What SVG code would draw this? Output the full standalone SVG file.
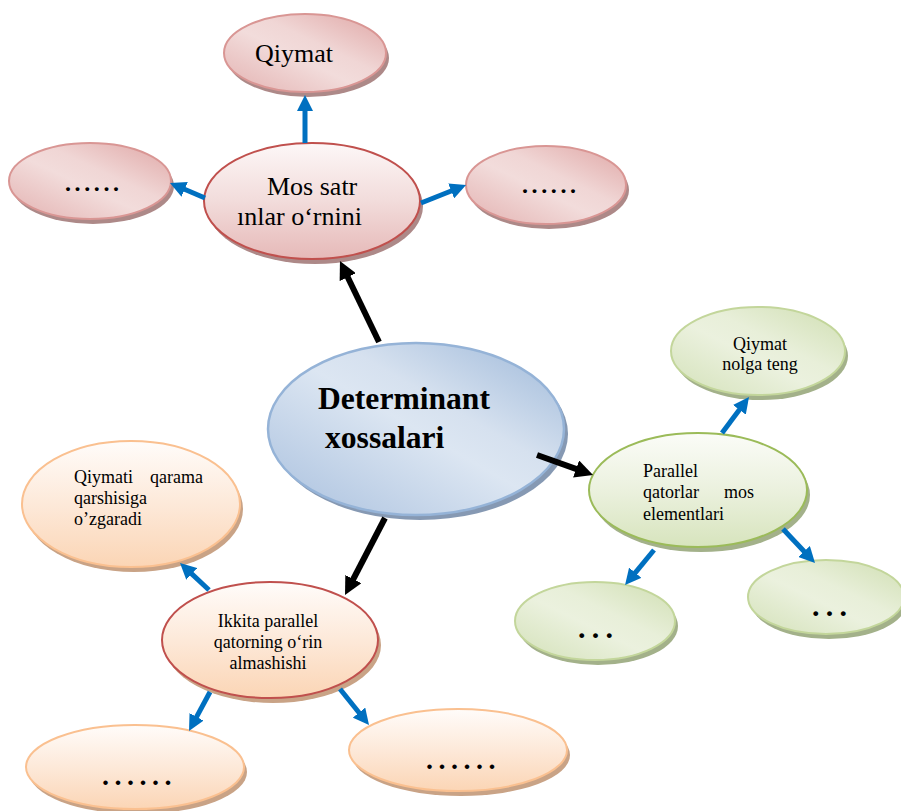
<svg xmlns="http://www.w3.org/2000/svg" width="901" height="811" viewBox="0 0 901 811">
<defs>
  <linearGradient id="gRed" x1="0" y1="1" x2="1" y2="0">
    <stop offset="0" stop-color="#e3b1b0"/>
    <stop offset="0.45" stop-color="#f2dcdb"/>
    <stop offset="0.6" stop-color="#f0d6d5"/>
    <stop offset="1" stop-color="#dfa5a4"/>
  </linearGradient>
  <linearGradient id="gRedV" x1="0" y1="0" x2="0" y2="1">
    <stop offset="0" stop-color="#fdf7f7"/>
    <stop offset="0.5" stop-color="#f2dcdb"/>
    <stop offset="1" stop-color="#e6b9b8"/>
  </linearGradient>
  <linearGradient id="gBlue" x1="0" y1="1" x2="1" y2="0">
    <stop offset="0" stop-color="#a9c0de"/>
    <stop offset="0.5" stop-color="#dce6f2"/>
    <stop offset="0.62" stop-color="#d6e1ef"/>
    <stop offset="1" stop-color="#9db8d9"/>
  </linearGradient>
  <linearGradient id="gGreen" x1="0" y1="1" x2="1" y2="0">
    <stop offset="0" stop-color="#d3e1b8"/>
    <stop offset="0.45" stop-color="#ebf1de"/>
    <stop offset="0.6" stop-color="#e8efd9"/>
    <stop offset="1" stop-color="#cfdeb1"/>
  </linearGradient>
  <linearGradient id="gGreenV" x1="0" y1="0" x2="0" y2="1">
    <stop offset="0" stop-color="#fbfcf8"/>
    <stop offset="0.5" stop-color="#ebf1de"/>
    <stop offset="1" stop-color="#d7e4bd"/>
  </linearGradient>
  <linearGradient id="gOrange" x1="0" y1="0" x2="0" y2="1">
    <stop offset="0" stop-color="#fffcfa"/>
    <stop offset="0.5" stop-color="#fde9d9"/>
    <stop offset="1" stop-color="#fbd5b5"/>
  </linearGradient>
  <marker id="mBlue" markerUnits="userSpaceOnUse" markerWidth="16" markerHeight="16" refX="4" refY="8" orient="auto">
    <path d="M0,0 L16,8 L0,16 z" fill="#0070c0"/>
  </marker>
  <marker id="mBlack" markerUnits="userSpaceOnUse" markerWidth="18" markerHeight="18" refX="5" refY="9" orient="auto">
    <path d="M0,0 L18,9 L0,18 z" fill="#000"/>
  </marker>
</defs>
<style>
  text { font-family: "Liberation Serif", "Times New Roman", serif; fill: #000; }
  .t26 { font-size: 26px; }
  .t18 { font-size: 18px; }
  .big { font-size: 31.6px; font-weight: bold; }
  .mid { text-anchor: middle; }
  .dotR { font-size: 24px; font-weight: bold; letter-spacing: 3.6px; }
  .dotO { font-size: 28px; font-weight: bold; letter-spacing: 5.5px; }
  .dotG { font-size: 30px; font-weight: bold; letter-spacing: 6.2px; }
  .shR { fill: #ad8988; }
  .shB { fill: #8699b3; }
  .shG { fill: #a3b18a; }
  .shO { fill: #c9a386; }
  .nR { fill: url(#gRed); stroke: #d99694; stroke-width: 2; }
  .nRV { fill: url(#gRedV); stroke: #c0504d; stroke-width: 2; }
  .nB { fill: url(#gBlue); stroke: #95b3d7; stroke-width: 2.5; }
  .nG { fill: url(#gGreen); stroke: #c3d69b; stroke-width: 2; }
  .nGV { fill: url(#gGreenV); stroke: #9bbb59; stroke-width: 2; }
  .nO { fill: url(#gOrange); stroke: #fac090; stroke-width: 2; }
  .nOR { fill: url(#gOrange); stroke: #c0504d; stroke-width: 2; }
  .blue { stroke: #0070c0; stroke-width: 5; fill: none; marker-end: url(#mBlue); }
  .black { stroke: #000; stroke-width: 6; fill: none; marker-end: url(#mBlack); }
</style>

<g id="node-qiymat-top">
  <ellipse class="shR" cx="308" cy="58" rx="81" ry="39"/>
  <ellipse class="nR" cx="305" cy="53" rx="81" ry="39"/>
  <text class="t26" x="255" y="62">Qiymat</text>
</g>
<g id="node-dots-left">
  <ellipse class="shR" cx="93" cy="186" rx="81" ry="38"/>
  <ellipse class="nR" cx="90" cy="181" rx="81" ry="38"/>
  <text class="dotR" x="65" y="191">......</text>
</g>
<g id="node-mos-satr">
  <ellipse class="shR" cx="315" cy="206" rx="108" ry="58"/>
  <ellipse class="nRV" cx="312" cy="201" rx="108" ry="58"/>
  <text class="t26" x="267" y="195">Mos satr</text>
  <text class="t26" x="237" y="225">ınlar o‘rnini</text>
</g>
<g id="node-dots-right">
  <ellipse class="shR" cx="549" cy="190" rx="80" ry="39"/>
  <ellipse class="nR" cx="546" cy="185" rx="80" ry="39"/>
  <text class="dotR" x="522" y="193">......</text>
</g>
<g id="node-determinant">
  <ellipse class="shB" cx="420" cy="434" rx="148" ry="86"/>
  <ellipse class="nB" cx="416" cy="429" rx="148" ry="86"/>
  <text class="big" x="318" y="409">Determinant</text>
  <text class="big" x="325" y="448">xossalari</text>
</g>
<g id="node-qiymat-nolga">
  <ellipse class="shG" cx="761" cy="356" rx="87" ry="44"/>
  <ellipse class="nG" cx="758" cy="351" rx="87" ry="44"/>
  <text class="t18 mid" x="760" y="350">Qiymat</text>
  <text class="t18 mid" x="760" y="370">nolga teng</text>
</g>
<g id="node-parallel">
  <ellipse class="shG" cx="701" cy="495" rx="109" ry="57"/>
  <ellipse class="nGV" cx="698" cy="490" rx="109" ry="57"/>
  <text class="t18" x="643" y="477">Parallel</text>
  <text class="t18" y="498"><tspan x="643">qatorlar</tspan><tspan x="724">mos</tspan></text>
  <text class="t18" x="643" y="520">elementlari</text>
</g>
<g id="node-green-dots-left">
  <ellipse class="shG" cx="598" cy="626" rx="80" ry="39"/>
  <ellipse class="nG" cx="595" cy="621" rx="80" ry="39"/>
  <text class="dotG" x="578" y="638">...</text>
</g>
<g id="node-green-dots-right">
  <ellipse class="shG" cx="829" cy="602" rx="78" ry="37"/>
  <ellipse class="nG" cx="826" cy="597" rx="78" ry="37"/>
  <text class="dotG" x="812" y="616">...</text>
</g>
<g id="node-qiymati-qarama">
  <ellipse class="shO" cx="134" cy="509" rx="109" ry="63"/>
  <ellipse class="nO" cx="131" cy="504" rx="109" ry="63"/>
  <text class="t18" y="483"><tspan x="74">Qiymati</tspan><tspan x="150">qarama</tspan></text>
  <text class="t18" x="74" y="504">qarshisiga</text>
  <text class="t18" x="74" y="525">o’zgaradi</text>
</g>
<g id="node-ikkita">
  <ellipse class="shO" cx="273" cy="645" rx="108" ry="58"/>
  <ellipse class="nOR" cx="270" cy="640" rx="108" ry="58"/>
  <text class="t18 mid" x="268" y="627">Ikkita parallel</text>
  <text class="t18 mid" x="268" y="648">qatorning o‘rin</text>
  <text class="t18 mid" x="268" y="669">almashishi</text>
</g>
<g id="node-orange-dots-left">
  <ellipse class="shO" cx="138" cy="772" rx="109" ry="42"/>
  <ellipse class="nO" cx="135" cy="767" rx="109" ry="42"/>
  <text class="dotO" x="102" y="785">......</text>
</g>
<g id="node-orange-dots-right">
  <ellipse class="shO" cx="461" cy="755" rx="109" ry="41"/>
  <ellipse class="nO" cx="458" cy="750" rx="109" ry="41"/>
  <text class="dotO" x="426" y="769">......</text>
</g>

<g id="connectors">
  <line class="black" x1="379" y1="342" x2="345.6" y2="272.7"/>
  <line class="black" x1="537" y1="455" x2="580.8" y2="470.6"/>
  <line class="black" x1="385" y1="518" x2="351" y2="583.5"/>
  <line class="blue" x1="305" y1="143" x2="305" y2="107"/>
  <line class="blue" x1="205" y1="198" x2="181" y2="187.7"/>
  <line class="blue" x1="421" y1="203" x2="454.9" y2="189.5"/>
  <line class="blue" x1="722" y1="433" x2="741.8" y2="406.6"/>
  <line class="blue" x1="654" y1="550" x2="632.7" y2="575.8"/>
  <line class="blue" x1="783" y1="529" x2="806.8" y2="554.3"/>
  <line class="blue" x1="209" y1="590" x2="188.8" y2="571.2"/>
  <line class="blue" x1="210" y1="692" x2="194.7" y2="720.4"/>
  <line class="blue" x1="340" y1="689" x2="361.5" y2="715.7"/>
</g>
</svg>
